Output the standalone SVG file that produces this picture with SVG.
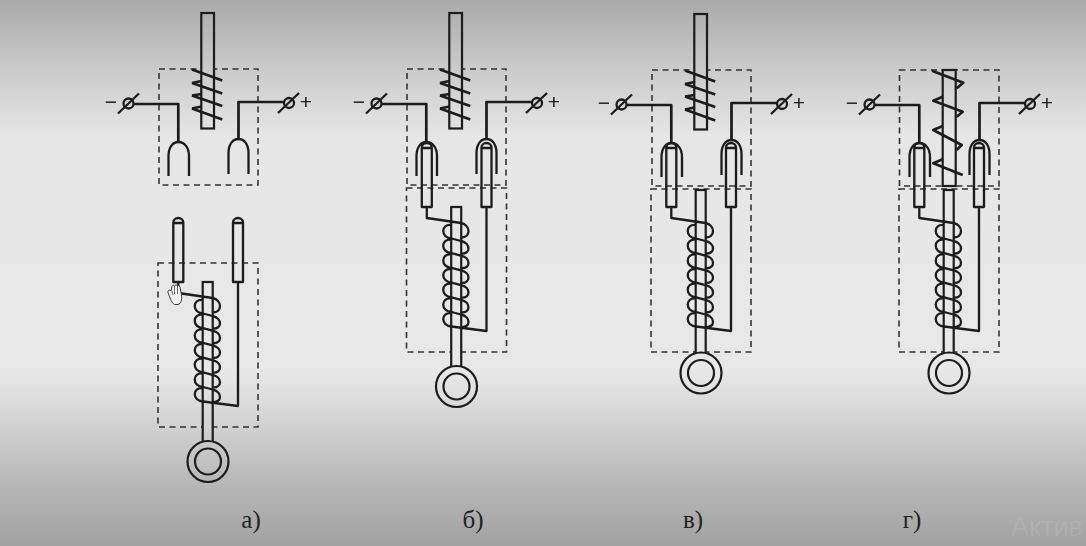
<svg xmlns="http://www.w3.org/2000/svg" xmlns:xlink="http://www.w3.org/1999/xlink" width="1086" height="546" viewBox="0 0 1086 546">
<style>
.l{fill:none;stroke:#1c1c1c;stroke-width:2.3;stroke-linejoin:round}
.t{fill:none;stroke:#1c1c1c;stroke-width:2.7;stroke-linejoin:round}
.r{fill:url(#bg);stroke:#1c1c1c;stroke-width:2.2}
.r2{fill:url(#bg2);stroke:#1c1c1c;stroke-width:2.2}
.b{fill:none;stroke:#333;stroke-width:1.6;stroke-dasharray:6 4.5}
.s{font-family:"Liberation Sans",Arial,sans-serif;font-size:21px;fill:#222;text-anchor:middle}
.c{font-family:"Liberation Serif","Times New Roman",serif;font-size:25px;fill:#222;text-anchor:middle}
</style>
<defs>
<linearGradient id="bg" gradientUnits="userSpaceOnUse" x1="0" y1="0" x2="0" y2="546">
<stop offset="0" stop-color="#a9a9a9"/><stop offset=".12" stop-color="#c9c9c9"/><stop offset=".25" stop-color="#e6e6e6"/><stop offset=".68" stop-color="#e8e8e8"/><stop offset=".79" stop-color="#cfcfcf"/><stop offset=".88" stop-color="#b8b8b8"/><stop offset="1" stop-color="#a2a2a2"/>
</linearGradient>
<linearGradient id="bg2" href="#bg" xlink:href="#bg" gradientUnits="userSpaceOnUse" x1="0" y1="75" x2="0" y2="621"/>
<filter id="soft" x="-2%" y="-2%" width="104%" height="104%"><feGaussianBlur stdDeviation=".4"/></filter>
<g id="uCoil">
<path class="t" d="M192,69.500 L222.300,80.500 M192,83 L222.300,93.500 M192,95.500 L222.300,106 M192,108.500 L222.300,119.500 M192,83 L201.500,81 M192,95.500 L201.500,94 M192,108.500 L201.500,106.500"/>
</g>
<g id="terms">
<circle class="l" cx="128.500" cy="103.500" r="5"/><path class="l" d="M118,113.500 L139,93.500"/>
<circle class="l" cx="289" cy="103" r="5"/><path class="l" d="M278,113 L299,93"/>
</g>
<g id="forks">
<path class="l" d="M168.500,176 V156 C168.500,147 173,142 178.500,142 C184,142 189,147 189,156 V176"/>
<path class="l" d="M228.500,174 V153 C228.500,144 233,139 238.500,139 C244,139 248.500,144 248.500,153 V174"/>
</g>
<g id="contact">
<path class="l" d="M0,64 V4.500 A5,4.500 0 0 1 10,4.500 V64 Z M0,5 H10"/>
</g>
<path id="turn" class="l" d="M203,0 C192,-1.500 192,13 203,13.500 L212.500,16 C222.500,18 222.500,29.500 212.500,28.500"/>
<g id="coil">
<path class="l" d="M212.500,298 C222.500,300 222.500,313 212.500,312.500"/>
<use href="#turn" y="300"/><use href="#turn" y="314.700"/><use href="#turn" y="329.400"/><use href="#turn" y="344.100"/><use href="#turn" y="358.800"/><use href="#turn" y="373.500"/>
<path class="l" d="M203,388.200 C192,386.700 192,401 203,401.500"/>
</g>
<g id="lowerW"><path class="l" d="M178.300,282 V293 L212.500,298 M238,282 V406 L203,401.500"/></g>
<g id="topW"><path class="t" d="M133,104 H178.300 V142 M284,102 H238.500 V139"/></g>
<g id="signs"><text class="s" x="111" y="108.500">−</text><text class="s" x="306" y="109">+</text></g>
</defs>
<rect id="background" width="1086" height="546" fill="url(#bg)"/>
<g filter="url(#soft)">
<g id="a-upper">
<rect class="b" x="159" y="69" width="99" height="116"/>
<rect class="r" x="201.300" y="13" width="12.700" height="115.500"/>
<use href="#uCoil"/><use href="#terms"/><use href="#signs"/><use href="#forks"/>
</g>
<g id="a-lower">
<rect class="b" x="158" y="263" width="100" height="164"/>
<use href="#contact" x="173.300" y="218"/><use href="#contact" x="233" y="218"/>
<rect class="r" x="202.700" y="282" width="10" height="160"/>
<use href="#coil"/>
<circle class="r" cx="208" cy="461.500" r="20.500"/><circle class="r" cx="208" cy="461.500" r="13"/>
</g>
<g id="b-upper" transform="translate(248,0)">
<rect class="b" x="159" y="69" width="99" height="116"/>
<rect class="r" x="201.300" y="13" width="12.700" height="115.500"/>
<use href="#uCoil"/><use href="#terms"/><use href="#signs"/><use href="#forks"/>
</g>
<g id="b-lower" transform="translate(248.500,-75)">
<rect class="b" x="158" y="263" width="100" height="164"/>
<use href="#contact" x="173.300" y="218"/><use href="#contact" x="233" y="218"/>
<rect class="r2" x="202.700" y="282" width="10" height="160"/>
<use href="#coil"/>
<circle class="r2" cx="208" cy="461.500" r="20.500"/><circle class="r2" cx="208" cy="461.500" r="13"/>
</g>
<g id="c-upper" transform="translate(493,1)">
<rect class="b" x="159" y="69" width="99" height="116"/>
<rect class="r" x="201.300" y="13" width="12.700" height="115.500"/>
<use href="#uCoil"/><use href="#terms"/><use href="#signs"/><use href="#forks"/>
</g>
<g id="c-lower" transform="translate(493,-75)">
<rect class="b" x="158" y="264" width="100" height="163"/>
<use href="#contact" x="173.300" y="218"/><use href="#contact" x="233" y="218"/>
<rect class="r2" x="202.700" y="265" width="10" height="165"/>
<use href="#coil"/>
<circle class="r2" cx="208" cy="448" r="20.500"/><circle class="r2" cx="208" cy="448" r="13"/>
</g>
<g id="d-upper" transform="translate(741,1)">
<rect class="b" x="158.500" y="69" width="99.500" height="116"/>
<rect class="r" x="201.700" y="69" width="13" height="116"/>
<use href="#terms"/><use href="#signs"/><use href="#forks"/>
<path class="t" transform="translate(-741,-1)" d="M932,70.700 L963.300,82.700 L956.700,88.300 M942.700,96.700 L933.300,100.700 L962.700,111.700 L956.700,116.700 M942.700,126 L933.300,130 L961.700,145 L956.700,150 M942.700,159.300 L933.300,163.300 L962.700,175"/>
</g>
<g id="d-lower" transform="translate(741,-75)">
<rect class="b" x="158" y="264" width="100" height="163"/>
<use href="#contact" x="173.300" y="218"/><use href="#contact" x="233" y="218"/>
<rect class="r2" x="202.700" y="265" width="10" height="165"/>
<use href="#coil"/>
<circle class="r2" cx="208" cy="448" r="20.500"/><circle class="r2" cx="208" cy="448" r="13"/>
</g>
<g id="connectors">
<use href="#topW"/><use href="#lowerW"/>
<use href="#topW" x="248"/><use href="#lowerW" x="248.500" y="-75"/>
<use href="#topW" x="493" y="1"/><use href="#lowerW" x="493" y="-75"/>
<use href="#topW" x="741" y="1"/><use href="#lowerW" x="741" y="-75"/>
</g>
<g id="cursor">
<path d="M170.500,299 L168,292.500 C167.500,290 170,289.500 171,291 L172,286.500 C172.500,284.500 174.500,285 174.500,286.500 C175,284.500 177,284.500 177.500,286.500 C178,285 180,285.500 180,287 L181.500,295 C182,300 181,303.500 178,304.500 H174.500 C172.500,303.500 171.500,301 170.500,299 Z" fill="#f4f4f4" stroke="#333" stroke-width="1"/>
<path d="M174.500,287 V294 M177.500,287 V294 M172,291 L173,295" fill="none" stroke="#333" stroke-width=".7"/>
</g>
</g>
<g id="captions">
<text class="c" x="251" y="528">а)</text>
<text class="c" x="473" y="528">б)</text>
<text class="c" x="693" y="528">в)</text>
<text class="c" x="912" y="528">г)</text>
</g>
<text id="watermark" x="1011" y="536" font-family="Liberation Sans, Arial, sans-serif" font-size="27" fill="#fff" fill-opacity=".09">Актив</text>
</svg>
